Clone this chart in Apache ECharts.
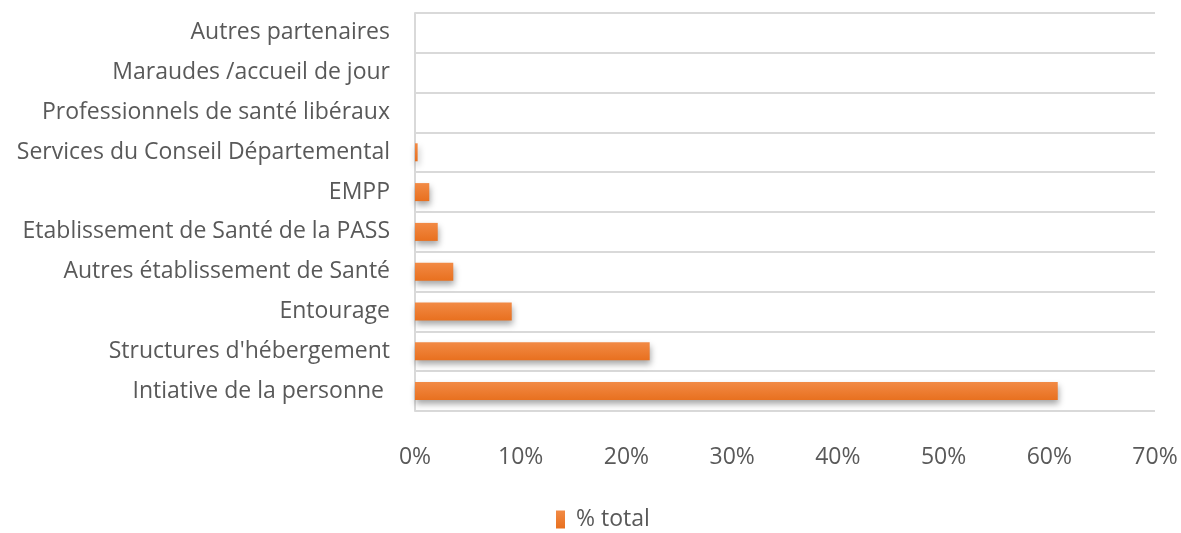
<!DOCTYPE html>
<html><head><meta charset="utf-8">
<script src="https://cdn.jsdelivr.net/npm/echarts@6/dist/echarts.min.js"></script>
<style>html,body{margin:0;padding:0;background:#fff}#c{width:1181px;height:533px}</style>
</head><body><div id="c"></div>
<script>
const categories = ["Intiative de la personne ", "Structures d'hébergement", "Entourage", "Autres établissement de Santé", "Etablissement de Santé de la PASS", "EMPP", "Services du Conseil Départemental", "Professionnels de santé libéraux", "Maraudes /accueil de jour", "Autres partenaires"];
const values = [0.608, 0.222, 0.0915, 0.0362, 0.0215, 0.0135, 0.0025, 0, 0, 0];
const seriesName = "% total";
const xTicks = [0, 0.1, 0.2, 0.3, 0.4, 0.5, 0.6, 0.7];

const font = "'Open Sans', sans-serif";
const chart = echarts.init(document.getElementById('c'));
chart.setOption({
  animation: false,
  grid: {left: 415, right: 26, top: 13, bottom: 122, containLabel: false},
  legend: {
    top: 508, left: 556, data: [seriesName], itemWidth: 9, itemHeight: 18, itemGap: 6,
    icon: 'rect', padding: 0,
    textStyle: {color: '#595959', fontSize: 23, fontFamily: font, padding: [0, 0, 0, 6]}
  },
  xAxis: {
    type: 'value', min: 0, max: 0.7, interval: 0.1,
    axisLine: {show: false}, axisTick: {show: false},
    splitLine: {show: false},
    axisLabel: {color: '#595959', fontSize: 23, fontFamily: font, margin: 35,
      formatter: v => Math.round(v * 100) + '%'}
  },
  yAxis: {
    type: 'category', data: categories,
    axisLine: {show: true, lineStyle: {color: '#d9d9d9', width: 2}},
    axisTick: {show: false},
    splitLine: {show: true, lineStyle: {color: '#d9d9d9', width: 2}},
    axisLabel: {color: '#595959', fontSize: 23, fontFamily: font, margin: 25}
  },
  series: [{
    name: seriesName, type: 'bar', data: values, barWidth: 18,
    itemStyle: {
      color: new echarts.graphic.LinearGradient(0, 0, 0, 1, [
        {offset: 0, color: '#F28A45'}, {offset: 1, color: '#E8701F'}]),
      shadowColor: 'rgba(0,0,0,0.35)', shadowBlur: 6, shadowOffsetY: 4, shadowOffsetX: 1
    }
  }]
});
</script></body></html>
